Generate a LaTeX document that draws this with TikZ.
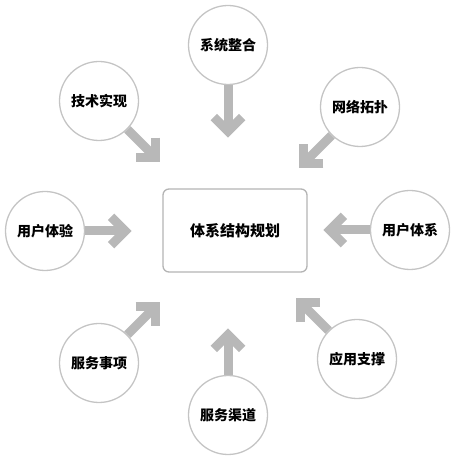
\documentclass[tikz,border=0pt]{standalone}
\usepackage{fontspec}
\setmainfont{Noto Sans CJK SC}
\usepackage{tikz}
\usetikzlibrary{calc}
\definecolor{ringgray}{HTML}{C4C4C4}
\definecolor{boxgray}{HTML}{B4B4B4}
\definecolor{arrowgray}{HTML}{B8B8B8}
\tikzset{
	ring/.style={circle, draw=ringgray, line width=1.3pt, minimum size=79pt, inner sep=0pt, font=\fontsize{14}{16}\selectfont\bfseries},
	plan/.style={rectangle, draw=boxgray, line width=1.3pt, rounded corners=6pt, minimum width=144pt, minimum height=83pt, font=\fontsize{15}{17}\selectfont\bfseries},
	arrowline/.style={draw=arrowgray, line width=9pt, line join=miter, miter limit=4}
}
\def\fatarrow(#1)(#2:#3){
	\draw[arrowline] (#1.#2) -- ($(#1.#2)+(#2:#3)$);
	\draw[arrowline] ($(#1.#2)+(#2:#3)+(#2+135:20)$) -- ($(#1.#2)+(#2:#3)$) -- ($(#1.#2)+(#2:#3)+(#2-135:20)$);
}
\begin{document}
\begin{tikzpicture}[x=1pt, y=1pt]
			%%%%% START %%%%%
			
			\useasboundingbox (0, 0) rectangle (458, 460);
			
			\node[plan] (plan) at (235, 229.5) {体系结构规划};
			
			\node[ring] (sys) at (228, 415) {系统整合};
			\node[ring] (net) at (360, 353) {网络拓扑};
			\node[ring] (usys) at (410, 230) {用户体系};
			\node[ring] (app) at (357, 101) {应用支撑};
			\node[ring] (chan) at (228, 45) {服务渠道};
			\node[ring] (item) at (99, 97) {服务事项};
			\node[ring] (uexp) at (45, 229) {用户体验};
			\node[ring] (tech) at (99, 359) {技术实现};
			
			\fatarrow(sys)(-90:46)
			\fatarrow(net)(-135:40)
			\fatarrow(usys)(180:40)
			\fatarrow(app)(135:40)
			\fatarrow(chan)(90:40)
			\fatarrow(item)(45:40)
			\fatarrow(uexp)(0:40)
			\fatarrow(tech)(-45:40)
			
			%%%%% END %%%%%
		\end{tikzpicture}
\end{document}
